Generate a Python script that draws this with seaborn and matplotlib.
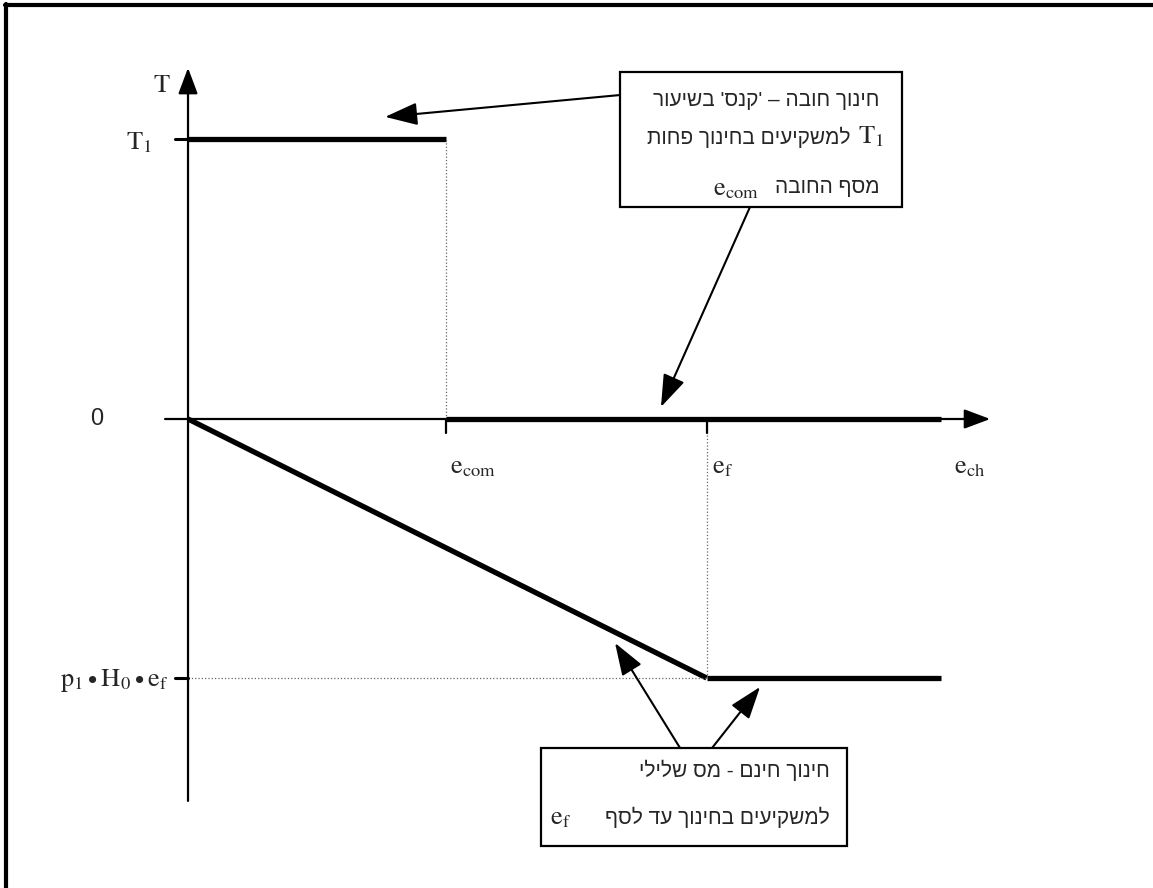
import matplotlib
matplotlib.use("Agg")
import matplotlib.pyplot as plt
from matplotlib.patches import Rectangle
from matplotlib.lines import Line2D
import pandas as pd
import seaborn as sns

# values (x in units of e_com, y in units of T1)
e_com = 1.0
e_f = 2.01
e_end = 2.92
T1 = 1.0
neg_tax = -0.925

seg_id = [0, 0, 1, 1, 2, 2, 3, 3]
seg_x = [0, e_com, e_com, e_end, 0, e_f, e_f, e_end]
seg_y = [T1, T1, 0, 0, 0, neg_tax, neg_tax, neg_tax]

x_tick_pos = [e_com, e_f]
x_tick_lab = [r"$\mathrm{e}_{\mathrm{com}}$", r"$\mathrm{e}_{\mathrm{f}}$"]
y_tick_pos = [T1, neg_tax]
y_tick_lab = [r"$\mathrm{T}_1$",
              r"$\mathrm{p}_1\bullet\mathrm{H}_0\bullet\mathrm{e}_{\mathrm{f}}$"]

# Hebrew notes (logical order, reversed for display since matplotlib has no bidi)
note_top = ["חינוך חובה – 'קנס' בשיעור", "למשקיעים בחינוך פחות", "מסף החובה"]
note_bot = ["חינוך חינם - מס שלילי", "למשקיעים בחינוך עד לסף"]


def heb(s):
    return s[::-1]


sns.set_style("white")
plt.rcParams["mathtext.fontset"] = "stix"
plt.rcParams["font.family"] = ["Liberation Serif", "DejaVu Serif"]
heb_font = ["Liberation Sans", "DejaVu Sans"]

fig = plt.figure(figsize=(11.53, 8.88), dpi=100)
ax = fig.add_axes([0, 0, 1, 1])
ax.set_xlim(-0.7287, 3.740)
ax.set_ylim(-1.675, 1.4964)
ax.axis("off")

df = pd.DataFrame({"seg": seg_id, "x": seg_x, "y": seg_y})
sns.lineplot(data=df, x="x", y="y", units="seg", estimator=None, sort=False,
             color="black", lw=3.8, solid_capstyle="butt", ax=ax, legend=False)

# guide lines (dotted)
dot = dict(color="#666666", lw=0.9, ls=":")
ax.plot([e_com, e_com], [0, T1], **dot)
ax.plot([e_f, e_f], [neg_tax, 0], **dot)
ax.plot([0, e_f], [neg_tax, neg_tax], **dot)

# axes with arrow heads
arr = dict(arrowstyle="-|>,head_length=0.8,head_width=0.3", mutation_scale=20,
           lw=1.6, color="black", shrinkA=0, shrinkB=0)
ax.annotate("", xy=(0, 1.254), xytext=(0, -1.364), arrowprops=arr)
ax.annotate("", xy=(3.109, 0), xytext=(-0.089, 0), arrowprops=arr)

# ticks
for yv in y_tick_pos:
    ax.plot([-0.05, 0], [yv, yv], color="black", lw=2.2)
for xv in x_tick_pos:
    ax.plot([xv, xv], [0, -0.05], color="black", lw=1.6)

# labels
ax.text(-0.10, 1.19, r"$\mathrm{T}$", fontsize=19, ha="center", va="center")
ax.text(-0.19, 0.985, y_tick_lab[0], fontsize=19, ha="center", va="center")
ax.text(-0.075, neg_tax - 0.01, y_tick_lab[1], fontsize=19, ha="right", va="center")
ax.text(-0.353, 0, "0", fontsize=17, ha="center", va="center", family=heb_font)
ax.text(e_com + 0.105, -0.175, x_tick_lab[0], fontsize=19, ha="center", va="center")
ax.text(e_f + 0.06, -0.175, x_tick_lab[1], fontsize=19, ha="center", va="center")
ax.text(3.03, -0.175, r"$\mathrm{e}_{\mathrm{ch}}$", fontsize=19, ha="center", va="center")

# note boxes
tf = fig.transFigure
ax.add_patch(Rectangle((0.538, 0.767), 0.244, 0.152, transform=tf,
                       fill=False, lw=1.6, color="black"))
ax.add_patch(Rectangle((0.469, 0.047), 0.266, 0.111, transform=tf,
                       fill=False, lw=1.6, color="black"))

fs = 15
ms = 19
ax.text(0.763, 0.887, heb(note_top[0]), transform=tf, fontsize=fs,
        ha="right", va="center", family=heb_font)
ax.text(0.738, 0.845, heb(note_top[1]), transform=tf, fontsize=fs,
        ha="right", va="center", family=heb_font)
ax.text(0.767, 0.846, y_tick_lab[0], transform=tf, fontsize=ms,
        ha="right", va="center")
ax.text(0.763, 0.789, heb(note_top[2]), transform=tf, fontsize=fs,
        ha="right", va="center", family=heb_font)
ax.text(0.638, 0.786, x_tick_lab[0], transform=tf, fontsize=ms,
        ha="center", va="center")
ax.text(0.720, 0.133, heb(note_bot[0]), transform=tf, fontsize=fs,
        ha="right", va="center", family=heb_font)
ax.text(0.720, 0.080, heb(note_bot[1]), transform=tf, fontsize=fs,
        ha="right", va="center", family=heb_font)
ax.text(0.486, 0.078, x_tick_lab[1], transform=tf, fontsize=ms,
        ha="center", va="center")

# annotation arrows
ann = dict(arrowstyle="-|>,head_length=1.0,head_width=0.35", mutation_scale=20,
           lw=1.5, color="black", shrinkA=0, shrinkB=0)
ax.annotate("", xy=(0.764, 1.079), xytext=(1.674, 1.157), arrowprops=ann)
ax.annotate("", xy=(1.833, 0.043), xytext=(2.178, 0.757), arrowprops=ann)
ax.annotate("", xy=(1.655, -0.80), xytext=(1.907, -1.175), arrowprops=ann)
ax.annotate("", xy=(2.217, -0.957), xytext=(2.031, -1.175), arrowprops=ann)

# page frame
fig.add_artist(Line2D([0.0055, 0.0055], [0, 0.9955], lw=3, color="black"))
fig.add_artist(Line2D([0.0042, 1], [0.9943, 0.9943], lw=3, color="black"))

fig.savefig("out.png", dpi=100)
